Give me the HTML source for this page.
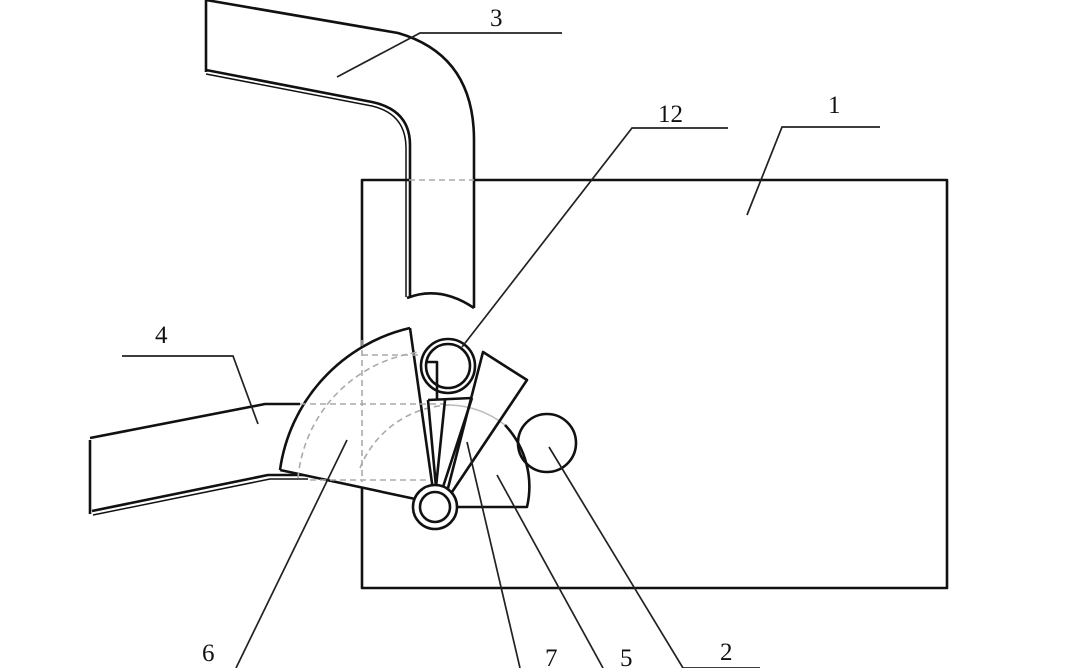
<!DOCTYPE html>
<html><head><style>body{margin:0;background:#fff}svg{display:block}text{font-family:"Liberation Serif",serif;font-size:25px;fill:#111}</style></head>
<body>
<svg width="1080" height="668" viewBox="0 0 1080 668">
<g fill="none" stroke="#111" stroke-width="2.6" stroke-linejoin="round">
<!-- box 1 -->
<path d="M409 180 H362 V588 H947 V180 H474"/>
<!-- pipe 3 -->
<path d="M206 0 V72"/>
<path d="M206 0 L398 33 Q474 55 474 140 V308"/>
<path d="M206 70 L372 102 Q410 110 410 145 V297"/>
<path d="M206 74 L372 106 Q406 114 406 148 V297" stroke-width="1.5"/>
<path d="M407 298 Q440 285 474 308"/>
<!-- pipe 4 -->
<path d="M90 440 V514"/>
<path d="M90 438 L265 404 H300"/>
<path d="M92 511 L268 475 H305"/>
<path d="M93 515 L270 479 H308" stroke-width="1.5"/>
<!-- sector 6 -->
<path d="M410 328 L433 490 L420 500 L280 470 A170 170 0 0 1 410 328 Z" fill="#fff" stroke="none"/>
<path d="M410 328 L433 490 M280 470 L420 500 M280 470 A170 170 0 0 1 410 328"/>
</g>
<g fill="none" stroke="#aaa" stroke-width="1.6" stroke-dasharray="6 4">
<path d="M409 180 H474"/>
<path d="M362 340 V482 M300 404 H447 M310 480 H430 M362 355 H420"/>
<path d="M298 478 A140 140 0 0 1 420 352"/>
<path d="M360 468 A100 100 0 0 1 450 405"/>
</g>
<path d="M450 405 A95 95 0 0 1 505 425" fill="none" stroke="#bbb" stroke-width="1.5"/>
<g fill="none" stroke="#111" stroke-width="2.6" stroke-linejoin="round">
<!-- blade 7 -->
<path d="M436 487 L428 400 M436 487 L445 400 M442 490 L472 398 M428 400 L472 398"/>
<path d="M427 362 H437 V400"/>
<!-- sector blade -->
<path d="M447 492 L483 352 L527 380 L450 495"/>
<!-- sector 5 -->
<path d="M505 425 A90 90 0 0 1 527 507 H455"/>
</g>
<g fill="none" stroke="#111" stroke-width="2.6">
<circle cx="448" cy="366" r="27"/><circle cx="448" cy="366" r="22"/>
<circle cx="435" cy="507" r="22" fill="#fff"/><circle cx="435" cy="507" r="15"/>
<circle cx="547" cy="443" r="29"/>
</g>
<g fill="none" stroke="#222" stroke-width="1.7">
<path d="M337 77 L420 33 H562"/>
<path d="M747 215 L782 127 H880"/>
<path d="M462 347 L632 128 H728"/>
<path d="M122 356 H233 L258 424"/>
<path d="M347 440 L236 668"/>
<path d="M467 442 L520 668"/>
<path d="M497 475 L603 668"/>
<path d="M549 447 L683 668 H760"/>
</g>
<text x="490" y="26">3</text>
<text x="828" y="113">1</text>
<text x="658" y="122">12</text>
<text x="155" y="343">4</text>
<text x="202" y="661">6</text>
<text x="545" y="666">7</text>
<text x="620" y="666">5</text>
<text x="720" y="660">2</text>
</svg>
</body></html>
